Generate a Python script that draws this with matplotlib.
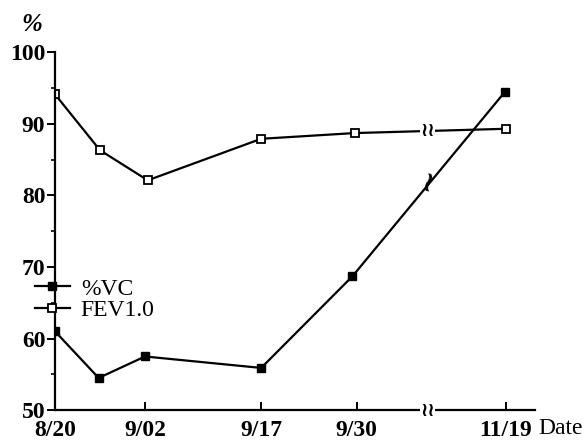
import matplotlib.pyplot as plt

# x positions (drawing units, axis is broken between 9/30 and 11/19)
tick_pos = [0, 13.0, 29.8, 43.6, 65.2]
tick_labels = ["8/20", "9/02", "9/17", "9/30", "11/19"]
break_x = 53.9

x_fev = [0, 6.5, 13.4, 29.8, 43.3, 65.2]
fev = [94.1, 86.3, 82.1, 87.9, 88.7, 89.3]
x_vc = [0, 6.3, 13.0, 29.8, 43.0, 65.0]
vc = [61.0, 54.5, 57.5, 55.9, 68.7, 94.4]

# value of each line where it crosses the break
fev_at_break = 89.0
vc_at_break = 81.6

serif = "Liberation Serif"

fig = plt.figure(figsize=(5.86, 4.42), dpi=100)
ax = fig.add_axes([0.094, 0.072, 0.819, 0.81])

ax.plot(x_vc, vc, color="black", linewidth=1.6, marker="s", markersize=5.5,
        markerfacecolor="black", markeredgecolor="black", label="%VC")
ax.plot(x_fev, fev, color="black", linewidth=1.6, marker="s", markersize=5.5,
        markerfacecolor="white", markeredgecolor="black", markeredgewidth=1.3,
        label="FEV1.0")

# break marks
ax.text(break_x, fev_at_break, "≀≀", ha="center", va="center", fontsize=14,
        fontweight="bold", family="DejaVu Sans",
        bbox=dict(facecolor="white", edgecolor="none", pad=0.2))
ax.text(break_x, vc_at_break, "≀", ha="center", va="center", fontsize=20,
        fontweight="bold", family="DejaVu Sans", rotation=-15)
ax.text(break_x, 50, "≀≀", ha="center", va="center", fontsize=14,
        fontweight="bold", family="DejaVu Sans",
        bbox=dict(facecolor="white", edgecolor="none", pad=0.2))

ax.set_xlim(0, 69.4)
ax.set_ylim(50, 100)
ax.spines["top"].set_visible(False)
ax.spines["right"].set_visible(False)
ax.spines["left"].set_linewidth(1.6)
ax.spines["bottom"].set_linewidth(1.6)

ax.set_xticks(tick_pos)
ax.set_xticklabels(tick_labels, fontsize=17, fontweight="bold", family=serif)
ax.set_yticks([50, 60, 70, 80, 90, 100])
ax.set_yticklabels(["50", "60", "70", "80", "90", "100"], fontsize=17,
                   fontweight="bold", family=serif)
ax.set_yticks([55, 65, 75, 85, 95], minor=True)
ax.tick_params(axis="x", direction="in", length=6, width=1.4, pad=7)
ax.tick_params(axis="y", direction="out", length=6, width=1.4, pad=1)
ax.tick_params(axis="y", which="minor", direction="out", length=3, width=1.2)
# lift the "50" label a little so it clears "8/20"
ax.get_yticklabels()[0].set_verticalalignment("center_baseline")

fig.text(0.055, 0.945, "%", fontsize=18, fontstyle="italic", fontweight="bold",
         family=serif, ha="center", va="center")
fig.text(0.918, 0.030, "Date", fontsize=17, family=serif, ha="left",
         va="center")

leg = ax.legend(loc="upper left", bbox_to_anchor=(-0.062, 0.395), frameon=False,
                prop={"family": serif, "size": 17}, handlelength=1.5,
                handletextpad=0.45, labelspacing=0.0, borderaxespad=0)

fig.savefig("out.png", dpi=100)
